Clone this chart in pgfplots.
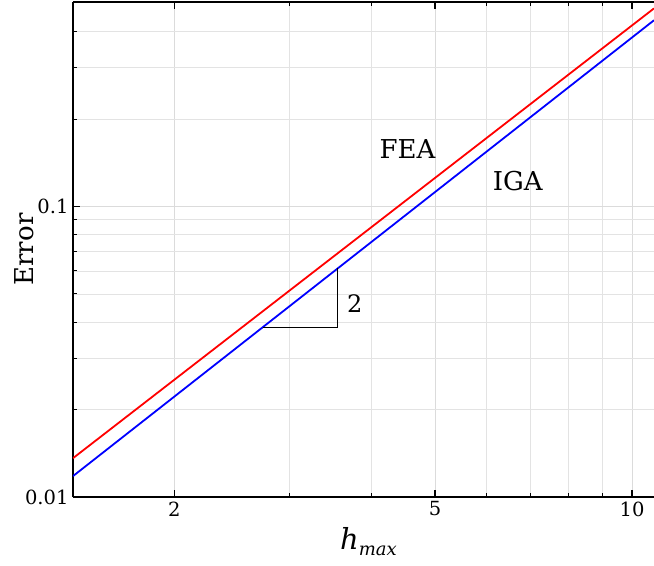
\documentclass[border=0pt]{standalone}
\usepackage{pgfplots}
\pgfplotsset{compat=1.18}
\usepackage{fontspec}
\setmainfont{DejaVu Serif}
\usetikzlibrary{calc}

\begin{document}
\begin{tikzpicture}
\begin{loglogaxis}[
  name=ax,
  scale only axis,
  width=581pt, height=495pt,
  xmin=1.4, xmax=10.8,
  ymin=0.01, ymax=0.505,
  axis x line*=box, axis y line*=left,
  axis line style={line width=1.5pt},
  xtick={2,5,10}, xticklabels={2,5,10},
  minor xtick={3,4,6,7,8,9},
  ytick={0.01,0.1}, yticklabels={0.01,0.1},
  minor ytick={0.02,0.03,0.04,0.05,0.06,0.07,0.08,0.09,0.2,0.3,0.4},
  /pgf/number format/assume math mode=true,
  tick align=inside,
  major tick length=7pt, minor tick length=4pt,
  every major tick/.append style={black, line width=1.5pt},
  every minor tick/.append style={black, line width=0.8pt},
  grid=both,
  major grid style={gray!28, line width=0.8pt},
  minor grid style={gray!22, line width=0.7pt},
  ticklabel style={font=\fontsize{19.5}{22}\selectfont},
  xticklabel style={yshift=-1pt},
  yticklabel style={xshift=-1pt},
  xlabel={\fontsize{29}{30}\selectfont\itshape h\raisebox{-0.2em}{\fontsize{18}{20}\selectfont max}},
  ylabel={\fontsize{26}{28}\selectfont Error},
  xlabel style={yshift=-7pt, xshift=5pt, inner sep=1pt},
  ylabel style={yshift=-16pt},
  clip=true,
]
% FEA and IGA error curves
\addplot[red, line width=1.8pt] coordinates {(1.4,0.0136) (10.8,0.480)};
\addplot[blue, line width=1.8pt] coordinates {(1.4,0.0118) (10.8,0.437)};
% slope triangle
\addplot[black, line width=1.4pt] coordinates {(2.73,0.0384) (3.55,0.0384) (3.55,0.0612)};
\node[font=\fontsize{24}{26}\selectfont] at (axis cs:3.77,0.0464) {2};
\node[font=\fontsize{26}{28}\selectfont] at (axis cs:4.54,0.158) {FEA};
\node[font=\fontsize{26}{28}\selectfont] at (axis cs:6.69,0.122) {IGA};
\end{loglogaxis}
\pgfresetboundingbox
\path[use as bounding box] ($(ax.south west)+(-73pt,-69pt)$) rectangle ($(ax.north east)+(0pt,2pt)$);
\end{tikzpicture}
\end{document}
